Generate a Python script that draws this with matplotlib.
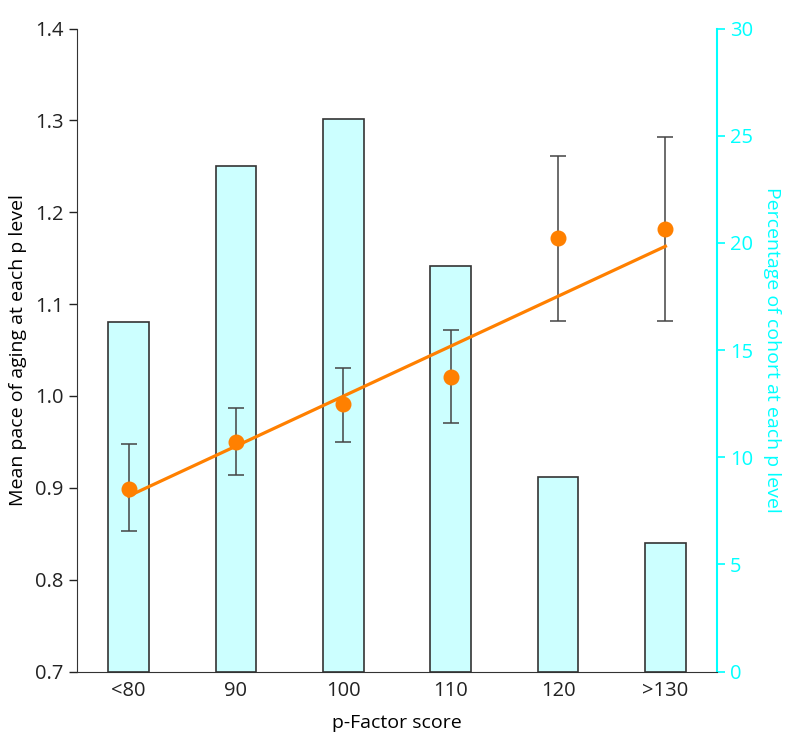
import matplotlib.pyplot as plt

plt.rcParams['font.family'] = ['Open Sans', 'DejaVu Sans']

categories = ["<80", "90", "100", "110", "120", ">130"]
cohort_pct = [16.3, 23.6, 25.8, 18.9, 9.1, 6.0]
pace_mean = [0.899, 0.950, 0.991, 1.021, 1.172, 1.182]
pace_low = [0.853, 0.914, 0.950, 0.971, 1.082, 1.082]
pace_high = [0.948, 0.987, 1.031, 1.072, 1.261, 1.282]
fit_line = [0.891, 1.163]  # fitted trend at first and last category

ORANGE = "#FF8000"
CYAN = "#00FFFF"
TICK_FS = 14.5
LABEL_FS = 14


def main():
    fig = plt.figure(figsize=(7.94, 7.52), dpi=100)
    ax = fig.add_axes([0.097, 0.107, 0.806, 0.855])
    ax2 = ax.twinx()

    x = list(range(len(categories)))

    # bars go on the right axis, behind the points
    ax2.bar(x, cohort_pct, width=0.38, color="#CCFFFF", edgecolor="#333333", linewidth=1.2)
    ax2.set_ylim(0, 30)
    ax2.set_yticks([0, 5, 10, 15, 20, 25, 30])
    ax2.tick_params(axis="y", colors=CYAN, labelsize=TICK_FS, length=6, width=1.2)
    ax2.set_ylabel("Percentage of cohort at each p level", color=CYAN, fontsize=LABEL_FS,
                   rotation=270, labelpad=20)
    for s in ["top", "left", "bottom"]:
        ax2.spines[s].set_visible(False)
    ax2.spines["right"].set_color(CYAN)
    ax2.spines["right"].set_linewidth(1.5)

    ax.set_zorder(ax2.get_zorder() + 1)
    ax.patch.set_visible(False)

    yerr = [[m - lo for m, lo in zip(pace_mean, pace_low)],
            [hi - m for m, hi in zip(pace_mean, pace_high)]]
    ax.errorbar(x, pace_mean, yerr=yerr, fmt="none", ecolor="#444444",
                elinewidth=1.1, capsize=6, capthick=1.1)
    ax.plot([x[0], x[-1]], fit_line, color=ORANGE, linewidth=2.3)
    ax.plot(x, pace_mean, "o", color=ORANGE, markersize=10.5, zorder=5)

    ax.set_xlim(-0.48, 5.48)
    ax.set_ylim(0.7, 1.4)
    ax.set_yticks([0.7, 0.8, 0.9, 1.0, 1.1, 1.2, 1.3, 1.4])
    ax.set_yticklabels(["0.7", "0.8", "0.9", "1.0", "1.1", "1.2", "1.3", "1.4"])
    ax.set_xticks(x)
    ax.set_xticklabels(categories)
    ax.tick_params(axis="y", labelsize=TICK_FS, length=6, width=1.0, colors="#222222")
    ax.tick_params(axis="x", labelsize=TICK_FS, length=0, pad=7, colors="#222222")
    ax.set_xlabel("p-Factor score", fontsize=LABEL_FS, labelpad=9)
    ax.set_ylabel("Mean pace of aging at each p level", fontsize=LABEL_FS, labelpad=6)
    for s in ["top", "right"]:
        ax.spines[s].set_visible(False)
    ax.spines["left"].set_color("#333333")
    ax.spines["bottom"].set_color("#333333")

    fig.savefig("out.png", dpi=100)


if __name__ == "__main__":
    main()
